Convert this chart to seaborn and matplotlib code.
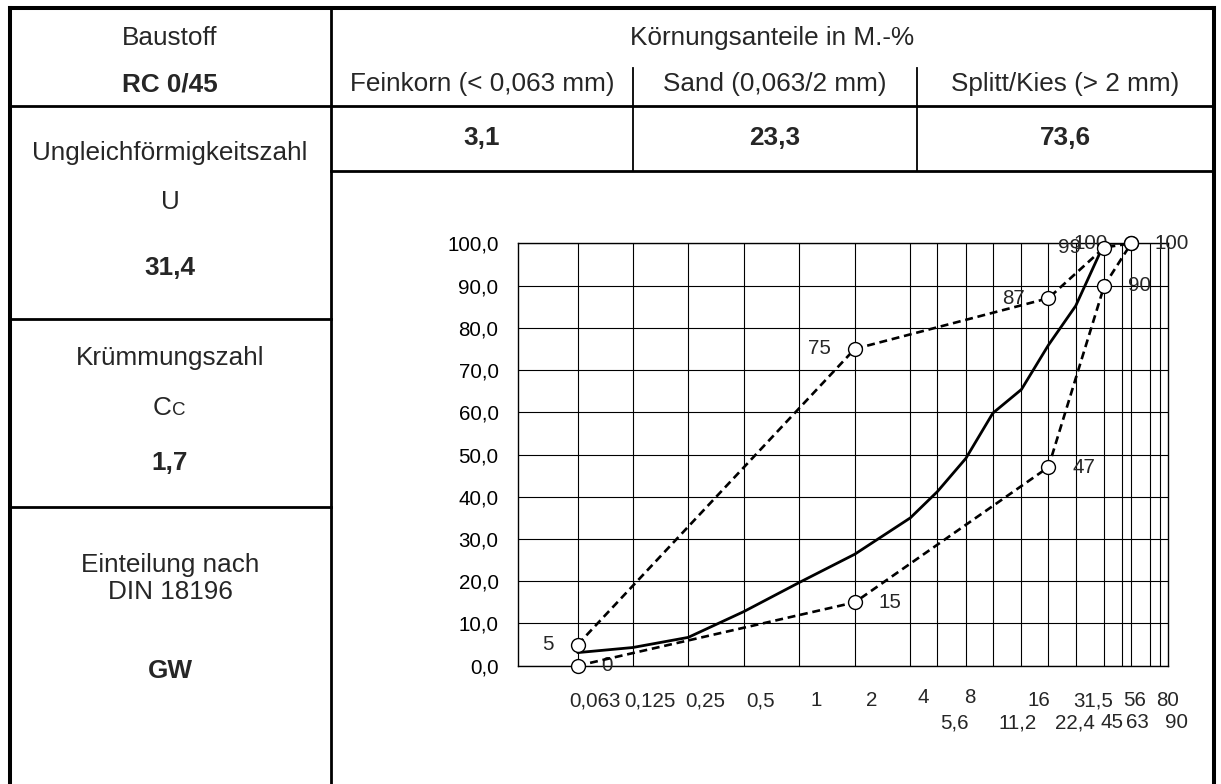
import matplotlib
matplotlib.use("Agg")
import matplotlib.pyplot as plt
import seaborn as sns
from matplotlib.ticker import FuncFormatter, NullLocator
from matplotlib.transforms import offset_copy

# sieve sizes in mm (grid lines of the grading chart)
sieves = [0.063, 0.125, 0.25, 0.5, 1, 2, 4, 5.6, 8, 11.2, 16, 22.4, 31.5, 45, 56, 63, 80, 90]
sieve_labels = ["0,063", "0,125", "0,25", "0,5", "1", "2", "4", "5,6", "8", "11,2",
                "16", "22,4", "31,5", "45", "56", "63", "80", "90"]
second_row = ["5,6", "11,2", "22,4", "45", "63", "90"]

# sample grading curve, passing in M.-%
sample_size = [0.063, 0.125, 0.25, 0.5, 1, 2, 4, 5.6, 8, 11.2, 16, 22.4, 31.5, 45, 56, 63]
sample_pass = [3.1, 4.3, 6.7, 12.8, 19.7, 26.4, 35.0, 41.2, 49.1, 59.8, 65.4, 75.9, 85.2, 100, 100, 100]

# grading envelope
env_size = [0.063, 2, 22.4, 45, 63]
upper_pass = [5, 75, 87, 99, 100]
lower_pass = [0, 15, 47, 90, 100]

# table content
fractions = ["Feinkorn (< 0,063 mm)", "Sand (0,063/2 mm)", "Splitt/Kies (> 2 mm)"]
fraction_vals = ["3,1", "23,3", "73,6"]
material = "RC 0/45"
u_value = "31,4"
cc_value = "1,7"
din_class = "GW"

sns.set_style("white")
plt.rcParams['font.family'] = ['Liberation Sans', 'DejaVu Sans']

W, H = 1221, 784
fig = plt.figure(figsize=(W / 100, H / 100), dpi=100)

# table frame in pixel coordinates
tab = fig.add_axes([0, 0, 1, 1])
tab.set_xlim(0, W)
tab.set_ylim(H, 0)
tab.axis('off')

def seg(x0, y0, x1, y1, lw=1.9):
    tab.plot([x0, x1], [y0, y1], color='black', lw=lw, solid_capstyle='projecting')

seg(10, 8, 1214, 8, lw=2.9)
seg(10, 8, 10, 800, lw=2.9)
seg(1214, 8, 1214, 800, lw=2.9)
seg(331, 8, 331, 800, lw=2.0)
seg(10, 106, 1214, 106, lw=2.0)
seg(331, 171, 1214, 171, lw=2.0)
seg(632.7, 68, 632.7, 171, lw=1.3)
seg(916.7, 68, 916.7, 171, lw=1.3)
seg(10, 319, 331, 319, lw=2.0)
seg(10, 507, 331, 507, lw=2.0)

fs = 18.8
tab.text(170, 38, "Baustoff", ha='center', va='center', fontsize=fs)
tab.text(170, 84, material, ha='center', va='center', fontsize=fs, fontweight='bold')
tab.text(772, 38, "Körnungsanteile in M.-%", ha='center', va='center', fontsize=fs)
col_x = [482, 775, 1065]
for cx, name, val in zip(col_x, fractions, fraction_vals):
    tab.text(cx, 84, name, ha='center', va='center', fontsize=fs)
    tab.text(cx, 138, val, ha='center', va='center', fontsize=fs, fontweight='bold')

tab.text(170, 153, "Ungleichförmigkeitszahl", ha='center', va='center', fontsize=fs)
tab.text(170, 202, "U", ha='center', va='center', fontsize=fs)
tab.text(170, 268, u_value, ha='center', va='center', fontsize=fs, fontweight='bold')
tab.text(170, 358, "Krümmungszahl", ha='center', va='center', fontsize=fs)
tab.text(171, 415, "C", ha='right', va='baseline', fontsize=fs)
tab.text(172, 415, "C", ha='left', va='baseline', fontsize=fs * 0.72)
tab.text(170, 463, cc_value, ha='center', va='center', fontsize=fs, fontweight='bold')
tab.text(170, 565, "Einteilung nach", ha='center', va='center', fontsize=fs)
tab.text(170, 592, "DIN 18196", ha='center', va='center', fontsize=fs)
tab.text(170, 671, din_class, ha='center', va='center', fontsize=fs, fontweight='bold')

# grading chart
x0, x1, y0, y1 = 518, 1168.3, 243.3, 665.7
ax = fig.add_axes([x0 / W, 1 - y1 / H, (x1 - x0) / W, (y1 - y0) / H])
ax.set_xscale('log', base=2)

sns.lineplot(x=sample_size, y=sample_pass, ax=ax, color='black', lw=2.0, zorder=3)
for vals in (upper_pass, lower_pass):
    sns.lineplot(x=env_size, y=vals, ax=ax, color='black', lw=1.9,
                 linestyle=(0, (3, 1.8)), marker='o', markersize=10,
                 markerfacecolor='white', markeredgecolor='black',
                 markeredgewidth=1.0, clip_on=False, zorder=4)

ax.set_xlim(0.0299, 100)
ax.set_ylim(0, 100)
ax.set_xticks(sieves)
ax.xaxis.set_minor_locator(NullLocator())
ax.set_xticklabels([])
ax.set_yticks(range(0, 101, 10))
ax.yaxis.set_major_formatter(FuncFormatter(lambda v, p: f"{v:.1f}".replace('.', ',')))
ax.tick_params(axis='x', length=0)
ax.tick_params(axis='y', direction='out', length=4, width=0.8, pad=10, labelsize=14.8, colors='black')
ax.grid(True, color='black', lw=0.8)
for sp in ax.spines.values():
    sp.set_visible(True)
    sp.set_color('black')
    sp.set_linewidth(1.0)
ax.set_xlabel("")
ax.set_ylabel("")

# small horizontal nudges of crowded sieve labels (pixels)
nudge = {"4": -4, "8": -13, "11,2": 8, "22,4": 10, "45": -9, "63": -11, "56": -4}
for s, lab in zip(sieves, sieve_labels):
    dy = -57 if lab in second_row else (-32 if lab in ("4", "8") else -35)
    tr = offset_copy(ax.get_xaxis_transform(), fig=fig, x=17 + nudge.get(lab, 0), y=dy, units='dots')
    ax.text(s, 0, lab, transform=tr, ha='center', va='center', fontsize=14.8, clip_on=False)

for xs, vs in zip(env_size, upper_pass):
    ax.annotate(f"{vs}", (xs, vs), xytext=(-17, 0), textcoords='offset points',
                ha='right', va='center', fontsize=14.8, annotation_clip=False)
for xs, vs in zip(env_size, lower_pass):
    ax.annotate(f"{vs}", (xs, vs), xytext=(17, 0), textcoords='offset points',
                ha='left', va='center', fontsize=14.8, annotation_clip=False)

fig.savefig("out.png", dpi=100)
